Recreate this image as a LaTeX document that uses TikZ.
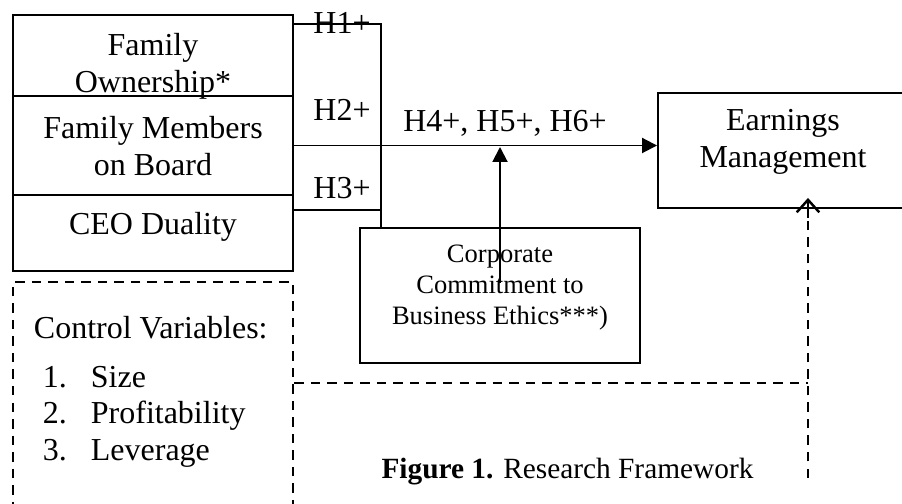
\documentclass[tikz,border=0pt]{standalone}
\usepackage{fontspec}
\setmainfont{Liberation Serif}
\usetikzlibrary{arrows.meta}

\tikzset{
    dashline/.style={line width=1.5pt, dash pattern=on 5.4pt off 4pt},
    mainfont/.style={font=\fontsize{18.2}{21}\selectfont},
}

\begin{document}
\begin{tikzpicture}[line width=1.1pt]
    \clip (0,0) rectangle (18.04,10.08);

    % boxes
    \begin{scope}[every node/.style={draw, rectangle, minimum width=5.6cm, inner sep=0pt}]
        \node[minimum height=1.62cm] (own) at (3.06,8.97) {};
        \node[minimum height=1.98cm] (fmb) at (3.06,7.17) {};
        \node[minimum height=1.52cm] (ceo) at (3.06,5.42) {};
        \node[minimum height=2.7cm] (ethics) at (10.0,4.17) {};
        \node[minimum width=5.0cm, minimum height=2.3cm] (earn) at (15.66,7.07) {};
        \node[dashline, minimum height=4.56cm] (ctrl) at (3.06,2.16) {};
    \end{scope}

    % box texts
    \begin{scope}[every node/.style={align=center, mainfont, inner sep=0pt}]
        \node (own text) at (3.06,8.76) {Family\\Ownership*};
        \node (fmb text) at (3.06,7.15) {Family Members\\on Board};
        \node (ceo text) at (3.06,5.54) {CEO Duality};
        \node (earn text) at (15.66,7.25) {Earnings\\Management};
        \node[font=\fontsize{15.1}{17.4}\selectfont] (ethics text) at (10.0,4.33)
            {Corporate\\Commitment to\\Business Ethics***)};
        \node[anchor=west] (ctrl title) at (0.66,3.52) {Control Variables:};
        \node[anchor=west, font=\fontsize{18.2}{20.8}\selectfont] (ctrl list) at (0.84,1.75)
            {\begin{tabular}{@{}l@{\hspace{0.48cm}}l@{}}
                1. & Size\\
                2. & Profitability\\
                3. & Leverage
            \end{tabular}};
    \end{scope}

    % hypothesis labels
    \begin{scope}[every node/.style={mainfont, inner sep=0pt}]
        \node (h1) at (6.84,9.62) {H1+};
        \node (h2) at (6.84,7.88) {H2+};
        \node (h3) at (6.84,6.32) {H3+};
        \node (h456) at (10.1,7.62) {H4+, H5+, H6+};
    \end{scope}
    \node[font=\fontsize{16.7}{20}\selectfont, inner sep=0pt] (caption) at (11.35,0.64)
        {\textbf{Figure 1.} Research Framework};

    % junction of the three lines
    \coordinate (j1) at (7.62,9.60);
    \coordinate (j3) at (7.62,5.88);
    \draw (own.east |- j1) -- (j1) -- (j1 |- ethics.north);
    \draw (ceo.east |- j3) -- (j3);

    \begin{scope}[>={Triangle[length=0.3cm,width=0.3cm]}]
        \draw[->] (fmb.east) -- (fmb.east -| earn.west);
        \draw[->] ([yshift=0.25cm]ethics.center) -- ([yshift=-0.03cm]ethics.center |- fmb.east);
    \end{scope}

    % controls
    \coordinate (cv) at (16.16,0.52);
    \coordinate (cj) at (16.16,2.42);
    \coordinate (cv tip) at ([yshift=0.22cm]earn.south -| cv);
    \draw[dashline] (ctrl.east |- cj) -- (cj);
    \draw[dashline] (cv) -- ([yshift=-0.4cm]cv tip);
    \draw[line width=1.4pt, -{Straight Barb[length=0.25cm,width=0.45cm]}]
        ([yshift=-0.4cm]cv tip) -- (cv tip);
\end{tikzpicture}
\end{document}
